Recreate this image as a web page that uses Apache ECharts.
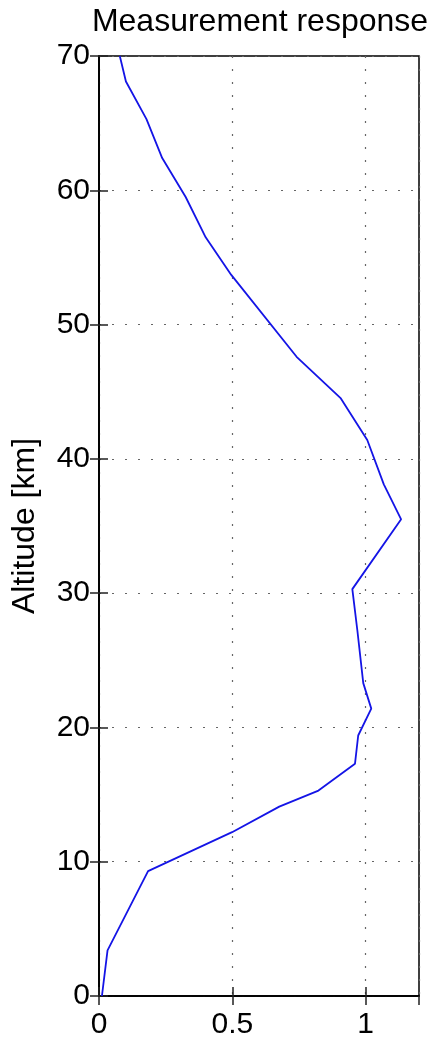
<!DOCTYPE html>
<html>
<head>
<meta charset="utf-8">
<script src="https://cdn.jsdelivr.net/npm/echarts@6/dist/echarts.min.js"></script>
<style>
html,body{margin:0;padding:0;background:#fff;}
#chart{width:432px;height:1040px;}
</style>
</head>
<body>
<div id="chart"></div>
<script>
var titleText = 'Measurement response';
var yAxisName = 'Altitude [km]';
var response = [0.011, 0.032, 0.184, 0.499, 0.676, 0.823, 0.960, 0.972, 1.021, 0.991, 0.969, 0.950, 1.133, 1.068, 1.006, 0.907, 0.741, 0.496, 0.400, 0.325, 0.237, 0.178, 0.101, 0.078];
var altitude = [0, 3.4, 9.3, 12.2, 14.1, 15.3, 17.3, 19.4, 21.4, 23.3, 27.2, 30.3, 35.5, 38.1, 41.4, 44.5, 47.6, 53.7, 56.5, 59.5, 62.4, 65.3, 68.1, 70];
var xTicks = [0, 0.5, 1];
var yTicks = [0, 10, 20, 30, 40, 50, 60, 70];

var data = response.map(function (v, i) { return [v, altitude[i]]; });
var font = 'Liberation Sans, Arial, Helvetica, sans-serif';
var chart = echarts.init(document.getElementById('chart'), null, {renderer: 'canvas'});
var tickStyle = {show: true, inside: true, length: 9, lineStyle: {color: '#222', width: 1.5}};
var gridLine = {show: true, lineStyle: {color: '#666', type: [2, 11], width: 1.2}};
function tickFmt(list) {
  return function (v) { return list.indexOf(v) >= 0 ? String(v) : ''; };
}
chart.setOption({
  animation: false,
  backgroundColor: '#fff',
  title: {
    text: titleText, left: 255, top: 1, textAlign: 'center',
    textStyle: {fontFamily: font, fontSize: 32, fontWeight: 'normal', color: '#000'}
  },
  grid: {left: 99, right: 13, top: 56, bottom: 44, show: true, borderColor: '#000', borderWidth: 1.5},
  xAxis: [{
    type: 'value', min: 0, max: 1.2, interval: 0.5, position: 'bottom',
    axisLine: {show: true, lineStyle: {color: '#000', width: 1.5}},
    axisTick: tickStyle,
    splitLine: gridLine,
    axisLabel: {
      margin: 14, color: '#000', fontFamily: font, fontSize: 30, showMaxLabel: false,
      formatter: tickFmt(xTicks)
    }
  }, {
    type: 'value', min: 0, max: 1.2, interval: 0.5, position: 'top',
    axisLine: {show: true, lineStyle: {color: '#000', width: 1.5}},
    axisTick: tickStyle, axisLabel: {show: false}, splitLine: {show: false}
  }],
  yAxis: [{
    type: 'value', min: 0, max: 70, interval: 10, position: 'left',
    name: yAxisName, nameLocation: 'middle', nameRotate: 90, nameGap: 58,
    nameTextStyle: {fontFamily: font, fontSize: 32, color: '#000'},
    axisLine: {show: true, lineStyle: {color: '#000', width: 1.5}},
    axisTick: tickStyle,
    splitLine: gridLine,
    axisLabel: {
      margin: 9, color: '#000', fontFamily: font, fontSize: 30,
      formatter: tickFmt(yTicks)
    }
  }, {
    type: 'value', min: 0, max: 70, interval: 10, position: 'right',
    axisLine: {show: true, lineStyle: {color: '#000', width: 1.5}},
    axisTick: tickStyle, axisLabel: {show: false}, splitLine: {show: false}
  }],
  series: [{
    type: 'line', data: data, xAxisIndex: 0, yAxisIndex: 0,
    symbol: 'none', clip: true,
    lineStyle: {color: '#1414e6', width: 1.8}
  }]
});
</script>
</body>
</html>
